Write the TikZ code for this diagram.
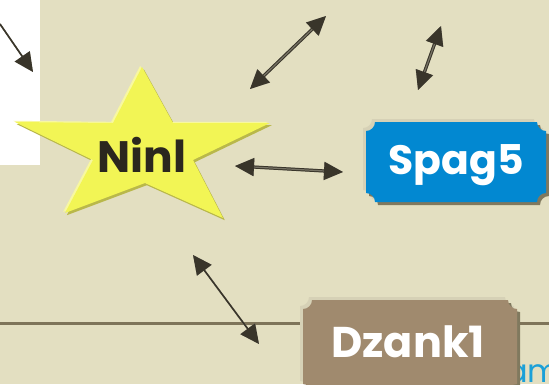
\documentclass[tikz,border=0pt]{standalone}
\usepackage{fontspec}
\setmainfont{Poppins}
\usetikzlibrary{arrows.meta}

\definecolor{paper}{RGB}{227,223,193}
\definecolor{rulecol}{RGB}{126,116,89}
\definecolor{inkdark}{RGB}{57,53,42}
\definecolor{inkshade}{RGB}{160,156,140}
\definecolor{staryellow}{RGB}{242,245,85}
\definecolor{starlight}{RGB}{248,248,160}
\definecolor{starshade}{RGB}{185,184,74}
\definecolor{spagblue}{RGB}{2,136,209}
\definecolor{dzbrown}{RGB}{160,138,110}
\definecolor{boxlight}{RGB}{214,209,182}
\definecolor{boxshade}{RGB}{128,121,94}
\definecolor{linkcyan}{RGB}{27,160,216}
\definecolor{textdark}{RGB}{43,39,30}

% ticket-shaped outline with concave corners: x1,y1,x2,y2,r
\def\ticketpath#1#2#3#4#5{%
  (#1+#5,#2) -- (#3-#5,#2) arc[start angle=180,end angle=90,radius=#5]
  -- (#3,#4-#5) arc[start angle=270,end angle=180,radius=#5]
  -- (#1+#5,#4) arc[start angle=0,end angle=-90,radius=#5]
  -- (#1,#2+#5) arc[start angle=90,end angle=0,radius=#5] -- cycle}

\tikzset{
  tipshape/.style={arrows={-Triangle[length=19pt,width=18pt]}},
  bothtips/.style={arrows={Triangle[length=19pt,width=18pt]-Triangle[length=19pt,width=18pt]}},
  linkshade/.style={draw=inkshade, line width=1.6pt, shift={(-1.8,-1.8)}},
  linkmain/.style={draw=inkdark, line width=1.6pt},
  linkdouble/.style={draw=inkdark, line width=1pt, double=inkshade!60!inkdark, double distance=1.2pt},
  tag/.style={font=\bfseries, text=white, inner sep=0pt},
}

\begin{document}
\begin{tikzpicture}[x=1pt,y=-1pt]
\useasboundingbox (0,0) rectangle (549,384);
\fill[paper] (0,0) rectangle (549,384);
\fill[white] (0,0) rectangle (40,165);

% horizontal rule
\draw[rulecol, line width=3pt] (0,323) -- (549,323);

% partly hidden caption
\node[anchor=base west, inner sep=0pt, text=linkcyan, font=\fontsize{32}{32}\selectfont] (cap) at (506,382) {am};

% star
\def\starpts{(142,67) -- (173,123) -- (270,123) -- (193,160) -- (223,218) -- (145,183) -- (65,213) -- (93,160) -- (15,122) -- (113,123) -- cycle}
\fill[starshade, shift={(1.8,2.2)}] \starpts;
\fill[starlight, shift={(-1.8,-1.2)}] \starpts;
\fill[staryellow] \starpts;
\node[inner sep=0pt, text=textdark, font=\fontsize{44}{44}\selectfont\bfseries] (ninl) at (142,155) {Ninl};

% Spag5 tag
\fill[boxlight] \ticketpath{363}{119}{543}{199}{9};
\fill[boxshade] \ticketpath{369}{125}{549}{205}{9};
\fill[spagblue] \ticketpath{366}{122}{546}{202}{9};
\node[tag, font=\fontsize{41}{41}\selectfont\bfseries] (spag) at (456,165) {Spag5};

% Dzank1 tag
\fill[boxlight] \ticketpath{300}{297}{514}{390}{9};
\fill[boxshade] \ticketpath{306}{303}{520}{396}{9};
\fill[dzbrown] \ticketpath{303}{300}{517}{393}{9};
\node[tag, font=\fontsize{43}{43}\selectfont\bfseries] (dzank) at (408,342) {Dzank1};

% link end points
\coordinate (a1) at (0,24);   \coordinate (a2) at (33,72);
\coordinate (b1) at (250,89); \coordinate (b2) at (326,16);
\coordinate (c1) at (418,90); \coordinate (c2) at (441,26);
\coordinate (d1) at (235,166);\coordinate (d2) at (343,172);
\coordinate (e1) at (193,255);\coordinate (e2) at (259,344);

% links: grey shade first, dark stroke on top
\draw[linkshade, tipshape] (a1) -- (a2);
\draw[linkmain, tipshape] (a1) -- (a2);
\foreach \p/\q in {b1/b2, c1/c2, d1/d2}{
  \draw[linkshade, bothtips, line width=3pt] (\p) -- (\q);
  \draw[linkdouble, bothtips] (\p) -- (\q);
}
\draw[linkshade, bothtips] (e1) -- (e2);
\draw[linkmain, bothtips] (e1) -- (e2);
\end{tikzpicture}
\end{document}
